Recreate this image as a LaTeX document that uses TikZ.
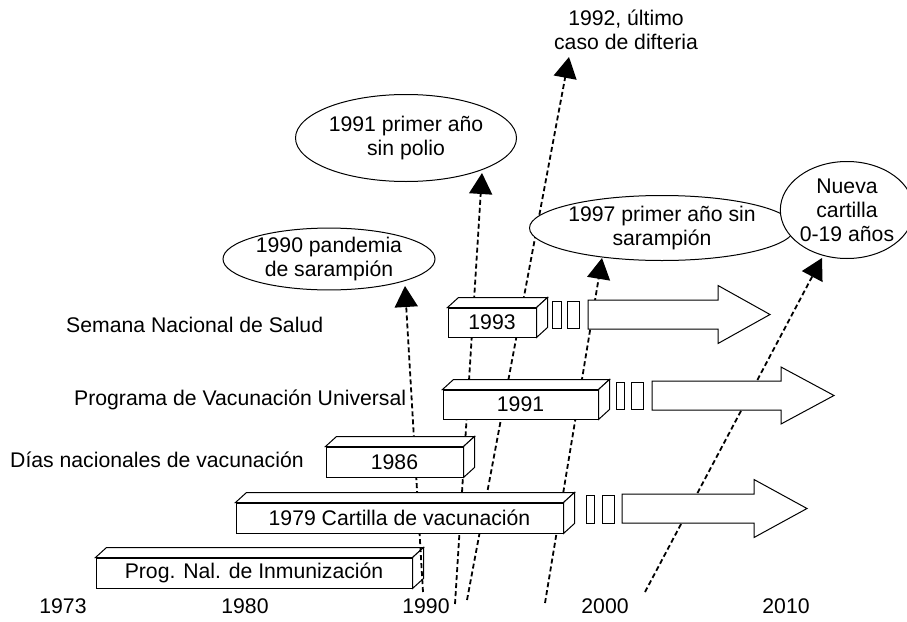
\documentclass[tikz,border=0pt]{standalone}
\usepackage{fontspec}
\setmainfont{Liberation Sans}
\usetikzlibrary{arrows.meta,shapes.geometric,calc}
\newcommand\prismbox[6]{%
  \node[prism,minimum width=#4pt,minimum height=#5pt] (#1) at (#2,#3) {#6};
  \draw[face] (#1.north west) -- ++(11,-10) -- ($(#1.north east)+(11,-10)$) -- (#1.north east) -- cycle;
  \draw[face] (#1.north east) -- ++(11,-10) -- ($(#1.south east)+(11,-10)$) -- (#1.south east) -- cycle;
}
\newcommand\bigarrow[5]{% start, headbase, tip, cy, headhalf
  \draw[face] (#1,#4-14.5) -- (#2,#4-14.5) -- (#2,#4-#5) -- (#3,#4) -- (#2,#4+#5) -- (#2,#4+14.5) -- (#1,#4+14.5) -- cycle;
}
\begin{document}
\begin{tikzpicture}[x=1pt,y=-1pt,
  every node/.style={font=\fontsize{21.2}{24}\selectfont},
  prism/.style={draw,fill=white,line width=1pt,inner sep=0pt},
  face/.style={draw,fill=white,line width=1pt,line join=miter},
  gap/.style={draw,fill=white,line width=1pt},
  bubble/.style={ellipse,draw,line width=1pt,fill=white,inner sep=0pt,align=center},
  event/.style={line width=1.8pt,dash pattern=on 5pt off 3pt,-{Triangle[width=23pt,length=21pt]}},
  lbl/.style={inner sep=0pt,anchor=west},
  yr/.style={inner sep=0pt}]
\useasboundingbox (0,0) rectangle (907,621);

% first box (line crosses its side)
\prismbox{pni}{254}{573}{316}{30}{Prog. Nal. de Inmunizaci\'on}

% dashed event lines
\coordinate (l1a) at (423,592); \coordinate (l1b) at (405,286);
\coordinate (l2a) at (455,604); \coordinate (l2b) at (482,173);
\coordinate (l3a) at (467,600); \coordinate (l3b) at (569,57);
\coordinate (l4a) at (545,603); \coordinate (l4b) at (602,258);
\coordinate (l5a) at (645,592); \coordinate (l5b) at (822,258);
\draw[event] (l1a) -- (l1b);
\draw[event] (l2a) -- (l2b);
\draw[event] (l3a) -- (l3b);
\draw[event] (l4a) -- (l4b);
\draw[event] (l5a) -- (l5b);

% boxes
\prismbox{b79}{399.5}{518}{327}{30}{1979 Cartilla de vacunaci\'on}
\prismbox{b86}{394.5}{462}{137}{30}{1986}
\prismbox{b91}{520.5}{404.5}{155}{29}{1991}
\prismbox{b93}{492}{322.5}{88}{29}{1993}

% gaps and arrows
\draw[gap] (552,301) rectangle (561,328);
\draw[gap] (567,301) rectangle (579,328);
\bigarrow{588}{718}{770}{314.5}{29}
\draw[gap] (616,382) rectangle (624,409);
\draw[gap] (631,382) rectangle (643,409);
\bigarrow{652}{781}{834}{395.5}{28.5}
\draw[gap] (586,495) rectangle (594,523);
\draw[gap] (602,495) rectangle (614,523);
\bigarrow{622}{754}{807}{508.5}{29}

% bubbles
\node[bubble,minimum width=212pt,minimum height=58pt] (e90) at (329,259) {1990 pandemia\\de sarampi\'on};
\node[bubble,minimum width=221pt,minimum height=87pt] (e91) at (406,138) {1991 primer a\~no\\sin polio};
\node[bubble,minimum width=221pt,minimum height=65pt] (e97) at (662,228) {1997 primer a\~no sin\\sarampi\'on};
\node[bubble,minimum width=117pt,minimum height=97pt] (enc) at (847,210) {Nueva\\cartilla\\0-19 a\~nos};
\node[align=center,inner sep=0pt] (t92) at (626,30) {1992, \'ultimo\\caso de difteria};

% row labels
\node[lbl] (r1) at (66,325) {Semana Nacional de Salud};
\node[lbl] (r2) at (74,400) {Programa de Vacunaci\'on Universal};
\node[lbl] (r3) at (10,460) {D\'ias nacionales de vacunaci\'on};

% axis
\node[yr] (y73) at (63,606) {1973};
\node[yr] (y80) at (245,606) {1980};
\node[yr] (y90) at (426,606) {1990};
\node[yr] (y00) at (605,606) {2000};
\node[yr] (y10) at (786,606) {2010};
\end{tikzpicture}
\end{document}
